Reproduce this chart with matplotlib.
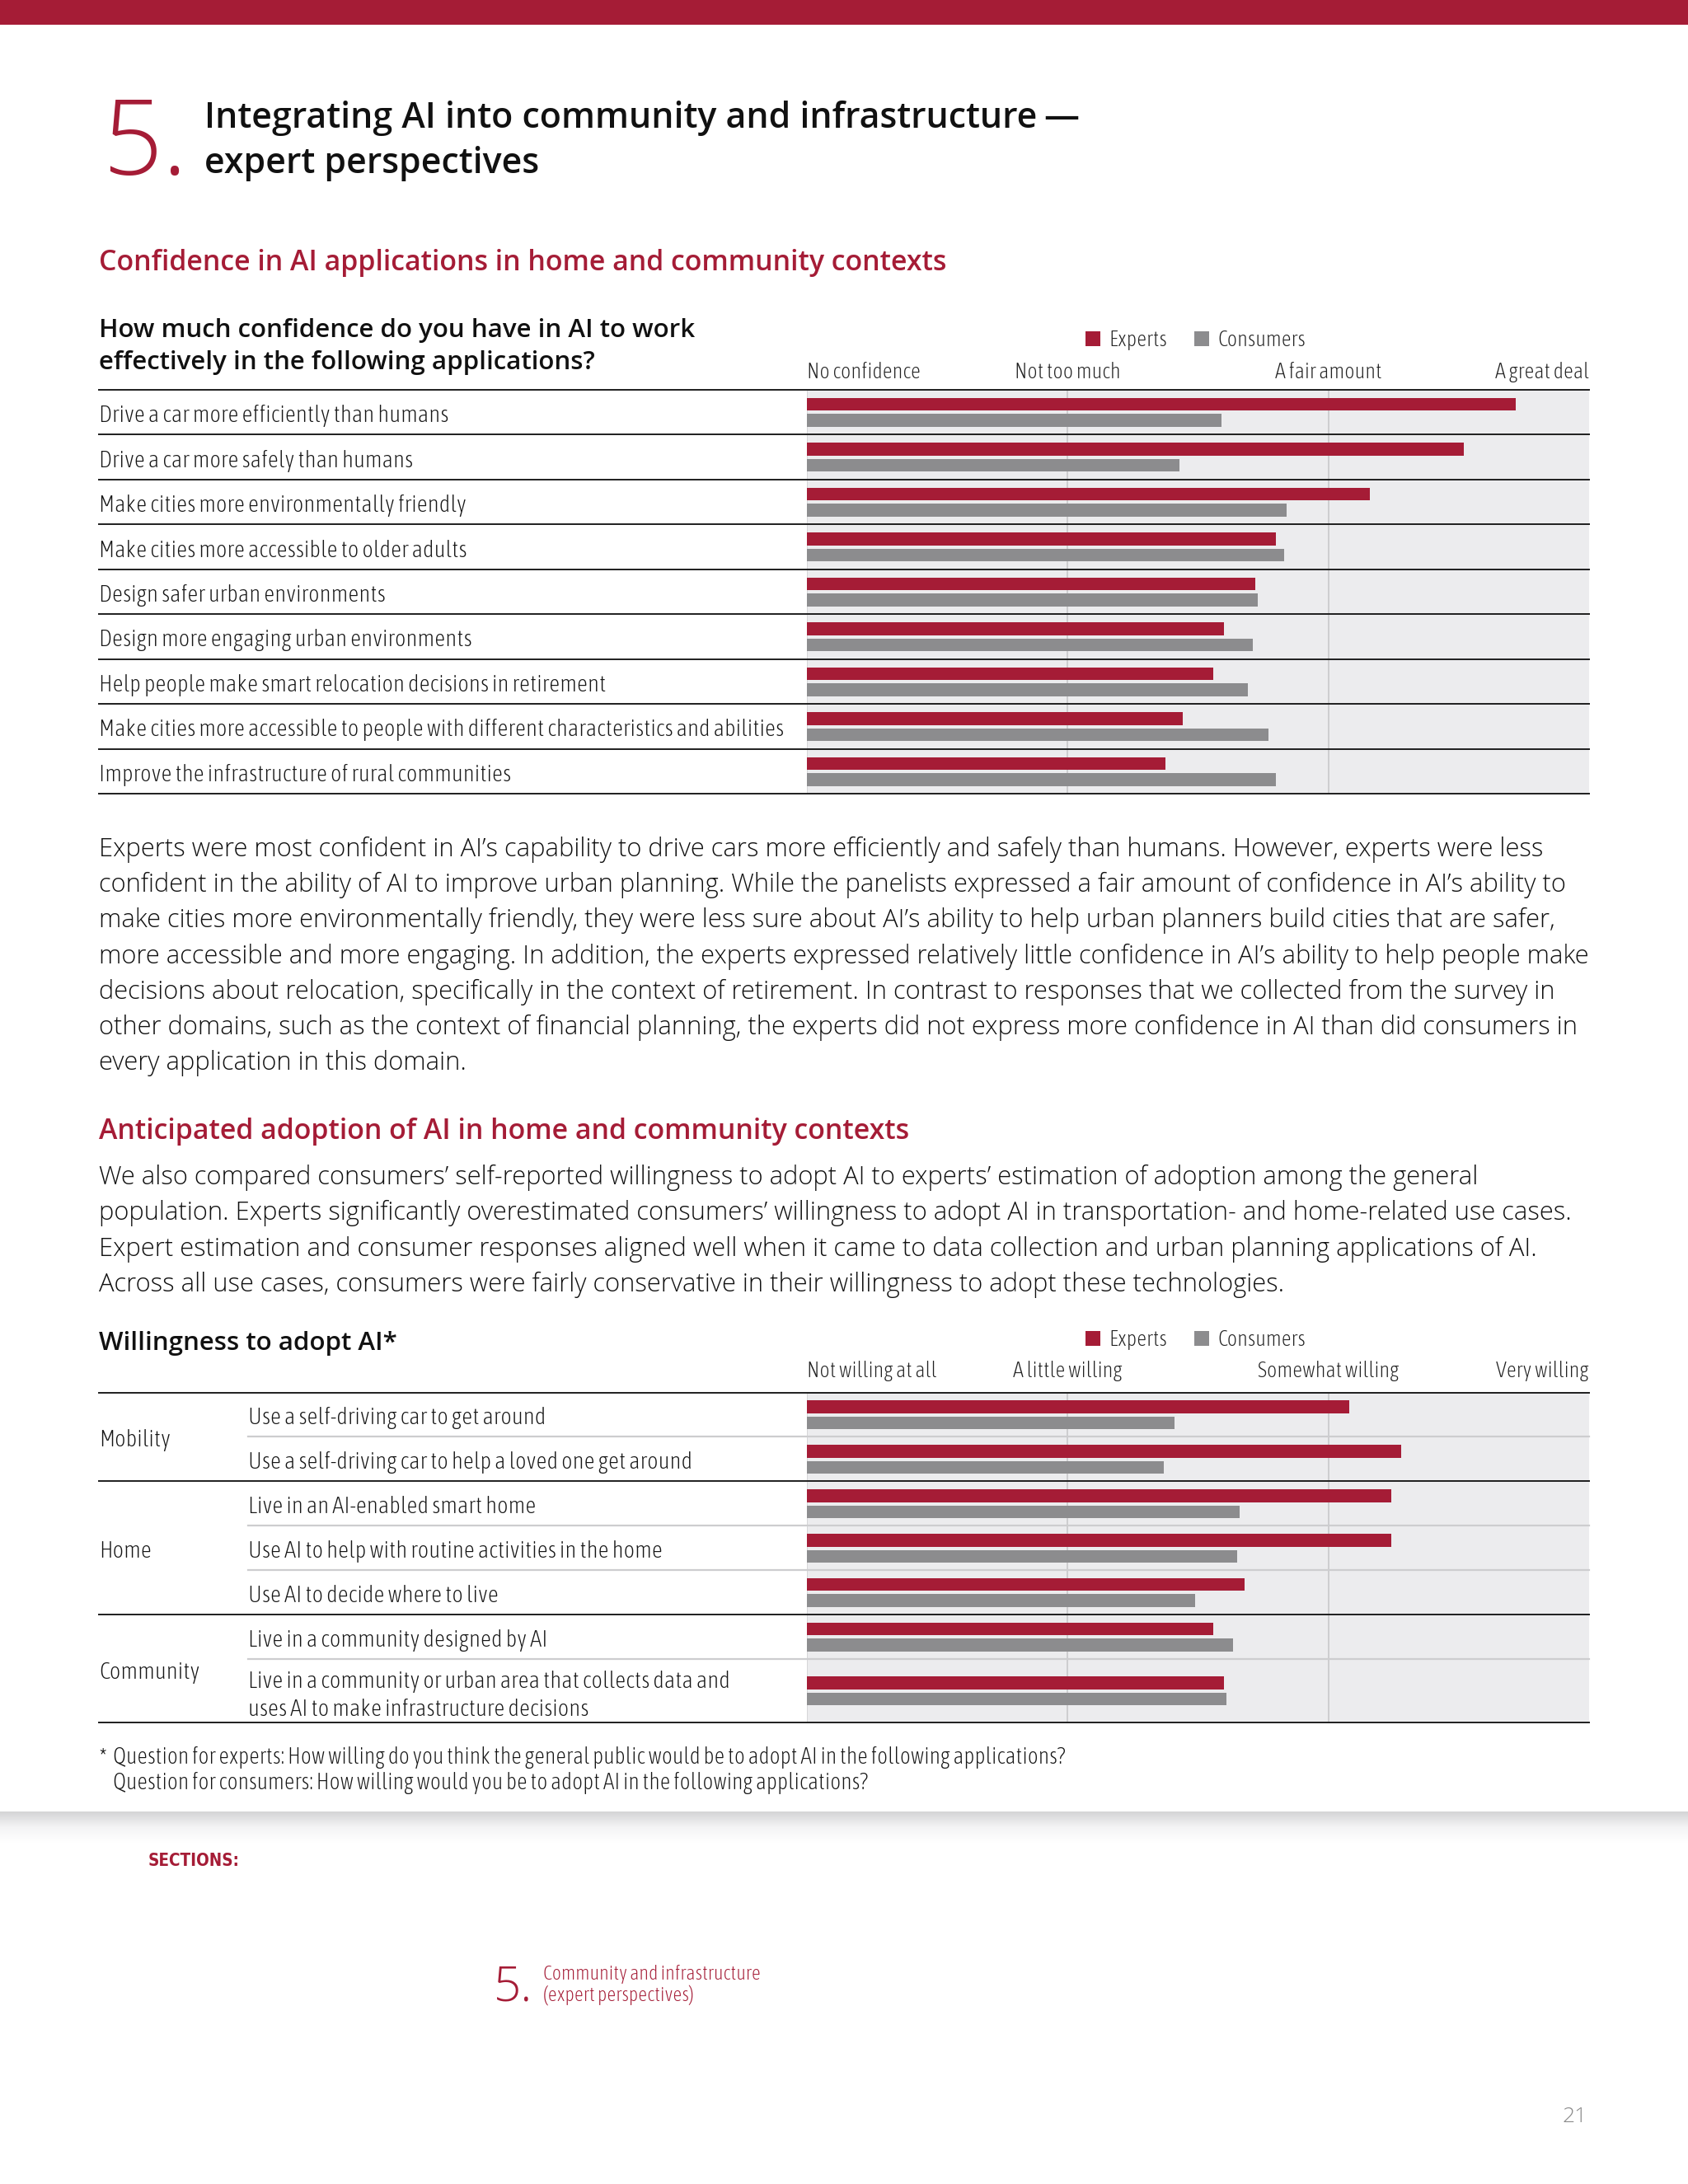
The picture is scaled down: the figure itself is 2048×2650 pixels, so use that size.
import numpy as np
import matplotlib
matplotlib.use('Agg')
import matplotlib.pyplot as plt
from matplotlib import font_manager as fm
from matplotlib.patches import Rectangle
from matplotlib.colors import LinearSegmentedColormap
from matplotlib.transforms import blended_transform_factory, offset_copy

# ---------------- data ----------------
series_names = ['Experts', 'Consumers']

conf_categories = [
    'Drive a car more efficiently than humans',
    'Drive a car more safely than humans',
    'Make cities more environmentally friendly',
    'Make cities more accessible to older adults',
    'Design safer urban environments',
    'Design more engaging urban environments',
    'Help people make smart relocation decisions in retirement',
    'Make cities more accessible to people with different characteristics and abilities',
    'Improve the infrastructure of rural communities',
]
conf_experts = [2.72, 2.52, 2.16, 1.80, 1.72, 1.60, 1.56, 1.44, 1.375]
conf_consumers = [1.59, 1.43, 1.84, 1.83, 1.73, 1.71, 1.69, 1.77, 1.80]
conf_ticks = ['No confidence', 'Not too much', 'A fair amount', 'A great deal']

adopt_groups = ['Mobility', 'Home', 'Community']
adopt_group_sizes = [2, 3, 2]
adopt_categories = [
    'Use a self-driving car to get around',
    'Use a self-driving car to help a loved one get around',
    'Live in an AI-enabled smart home',
    'Use AI to help with routine activities in the home',
    'Use AI to decide where to live',
    'Live in a community designed by AI',
    'Live in a community or urban area that collects data and\nuses AI to make infrastructure decisions',
]
adopt_experts = [2.08, 2.28, 2.24, 2.24, 1.68, 1.56, 1.60]
adopt_consumers = [1.41, 1.37, 1.66, 1.65, 1.49, 1.635, 1.61]
adopt_ticks = ['Not willing at all', 'A little willing', 'Somewhat willing', 'Very willing']

para1 = [
    'Experts were most confident in AI\u2019s capability to drive cars more efficiently and safely than humans. However, experts were less',
    'confident in the ability of AI to improve urban planning. While the panelists expressed a fair amount of confidence in AI\u2019s ability to',
    'make cities more environmentally friendly, they were less sure about AI\u2019s ability to help urban planners build cities that are safer,',
    'more accessible and more engaging. In addition, the experts expressed relatively little confidence in AI\u2019s ability to help people make',
    'decisions about relocation, specifically in the context of retirement. In contrast to responses that we collected from the survey in',
    'other domains, such as the context of financial planning, the experts did not express more confidence in AI than did consumers in',
    'every application in this domain.',
]
para2 = [
    'We also compared consumers\u2019 self-reported willingness to adopt AI to experts\u2019 estimation of adoption among the general',
    'population. Experts significantly overestimated consumers\u2019 willingness to adopt AI in transportation- and home-related use cases.',
    'Expert estimation and consumer responses aligned well when it came to data collection and urban planning applications of AI.',
    'Across all use cases, consumers were fairly conservative in their willingness to adopt these technologies.',
]

# ---------------- style ----------------
W, H, DPI = 2048, 2650, 100
RED = '#A51C36'
GRAY = '#8C8C8E'
BG = '#ECECEE'
GRID = '#C6C6C8'
DARK = '#1E1E1E'
LIGHTSEP = '#CDCDCF'
TXT = '#161616'

_WMAP = {'thin': 100, 'ultralight': 200, 'extralight': 200, 'light': 300, 'normal': 400,
         'regular': 400, 'book': 400, 'medium': 500, 'semibold': 600, 'demibold': 600,
         'bold': 700, 'heavy': 800, 'extra bold': 800, 'black': 900}


def _w(v):
    if isinstance(v, str):
        return _WMAP.get(v.lower(), 400)
    return int(v)


def _narrow(f):
    s = str(f.stretch).lower()
    return ('condensed' in s or s in ('75', '87.5', '62.5', '50')
            or 'Condensed' in f.name or 'Narrow' in f.name)


def weights_of(fam):
    return {_w(f.weight) for f in fm.fontManager.ttflist if f.name == fam and not _narrow(f)}


names = {f.name for f in fm.fontManager.ttflist}
BODY = 'Open Sans' if 'Open Sans' in names else 'DejaVu Sans'

# light body family
LIGHT = dict(family=BODY, weight=400)
for fam in ['Open Sans', 'Noto Sans', 'Lato', 'Roboto']:
    if fam in names and 300 in weights_of(fam):
        LIGHT = dict(family=fam, weight=300)
        break

# semibold heading family
HEAD = dict(family=BODY, weight=700)
for fam in ['Open Sans', 'Noto Sans', 'Lato']:
    if fam in names and 600 in weights_of(fam):
        HEAD = dict(family=fam, weight=600)
        break

# condensed light family for chart labels (fall back to light body)
COND = dict(LIGHT)
for f in fm.fontManager.ttflist:
    if _narrow(f) and _w(f.weight) <= 350:
        COND = dict(family=f.name, weight=_w(f.weight), stretch=f.stretch)
        break

# condensed bold for SECTIONS
CONDB = dict(family=HEAD['family'], weight=700)
for f in fm.fontManager.ttflist:
    if _narrow(f) and _w(f.weight) >= 600:
        CONDB = dict(family=f.name, weight=_w(f.weight), stretch=f.stretch)
        break

X0, X1, X2, X3 = 120, 979, 301, 1928   # page left, bar-area left, sub-label left, right

fig = plt.figure(figsize=(W / DPI, H / DPI), dpi=DPI)
page = fig.add_axes([0, 0, 1, 1])
page.axis('off')

# top band and shadow divider
page.add_patch(Rectangle((0, 0), W, 30, color=RED, lw=0, zorder=1))
grad = np.linspace(0, 1, 64).reshape(-1, 1)
cm = LinearSegmentedColormap.from_list('s', ['#D4D4D6', '#F4F4F5', '#FFFFFF'])
page.imshow(grad, extent=(0, W, 2236, 2198), cmap=cm, aspect='auto', zorder=0, interpolation='bilinear')
page.set_xlim(0, W)
page.set_ylim(H, 0)


def T(x, y, s, size, font, color=TXT, ha='left', va='baseline', **kw):
    f = dict(font)
    fam = f.pop('family')
    wt = f.pop('weight')
    return page.text(x, y, s, fontsize=size, family=fam, fontweight=wt, color=color,
                     ha=ha, va=va, **f, **kw)


groups = {}


def reg(g, t):
    groups.setdefault(g, []).append(t)
    return t


# header
T(124, 212, '5.', 92, LIGHT, color=RED)
reg('title', T(248, 155, 'Integrating AI into community and infrastructure\u2009\u2014', 32, HEAD, color='#111111'))
reg('title', T(248, 210, 'expert perspectives', 32, HEAD, color='#111111'))

reg('head', T(X0, 328, 'Confidence in AI applications in home and community contexts', 23, HEAD, color=RED))
reg('q', T(X0, 409, 'How much confidence do you have in AI to work', 22, HEAD, color='#111111'))
reg('q', T(X0, 448, 'effectively in the following applications?', 22, HEAD, color='#111111'))

for i, line in enumerate(para1):
    reg('para', T(X0, 1039 + i * 43.2, line, 22, LIGHT, color='#111111'))

reg('head', T(X0, 1382, 'Anticipated adoption of AI in home and community contexts', 23, HEAD, color=RED))
for i, line in enumerate(para2):
    reg('para', T(X0, 1437 + i * 43.3, line, 22, LIGHT, color='#111111'))

reg('q', T(X0, 1638, 'Willingness to adopt AI*', 22, HEAD, color='#111111'))

# footnote
reg('foot', T(X0, 2140, '*', 16, COND))
reg('foot', T(137, 2140, 'Question for experts: How willing do you think the general public would be to adopt AI in the following applications?', 16, COND))
reg('foot', T(137, 2171, 'Question for consumers: How willing would you be to adopt AI in the following applications?', 16, COND))

# bottom navigation
reg('sect', T(180, 2264, 'SECTIONS:', 18, CONDB, color=RED))
T(599, 2427, '5.', 42, LIGHT, color=RED)
reg('nav', T(659, 2402, 'Community and infrastructure', 14, COND, color=RED))
reg('nav', T(659, 2428, '(expert perspectives)', 14, COND, color=RED))
T(1926, 2575, '21', 19, LIGHT, color='#8A8A8A', ha='right')


def chart(top, bottom, exp, con, row_units, ticks, tick_base, legend_top, dark_after):
    ax = fig.add_axes([X1 / W, 1 - bottom / H, (X3 - X1) / W, (bottom - top) / H])
    edges = np.concatenate([[0], np.cumsum(row_units)])
    centers = (edges[:-1] + edges[1:]) / 2
    ax.set_xlim(0, 3)
    ax.set_ylim(edges[-1], 0)
    ax.set_facecolor(BG)
    for s in ax.spines.values():
        s.set_visible(False)
    ax.set_xticks([])
    ax.set_yticks([])
    ppu = (bottom - top) / edges[-1]  # pixels per unit
    h = 15.5 / ppu
    ax.barh(centers - 9.5 / ppu, exp, height=h, color=RED, zorder=3, label=series_names[0])
    ax.barh(centers + 10.0 / ppu, con, height=h, color=GRAY, zorder=3, label=series_names[1])
    ax.axvline(0, color='#D2D2D4', lw=1.2, zorder=1)
    for gx in (1, 2):
        ax.axvline(gx, color=GRID, lw=1.1, zorder=1)
    xmin_full = (X0 - X1) / (X3 - X1)
    xmin_sub = (X2 - X1) / (X3 - X1)
    for k, e in enumerate(edges):
        if k == 0 or k == len(edges) - 1 or k in dark_after:
            ax.axhline(e, xmin=xmin_full, xmax=1, color=DARK, lw=1.4, clip_on=False, zorder=4)
        else:
            ax.axhline(e, xmin=xmin_sub, xmax=1, color=LIGHTSEP, lw=1.6, clip_on=False, zorder=2)
    # scale labels along the axis
    tt = blended_transform_factory(ax.transData, page.transData)
    has = ['left', 'center', 'center', 'right']
    f = dict(COND)
    fam = f.pop('family')
    wt = f.pop('weight')
    for k, lab in enumerate(ticks):
        reg('tick', page.text(k, tick_base, lab, transform=tt, ha=has[k], va='baseline',
                              fontsize=18, family=fam, fontweight=wt, color='#222222', **f))
    # legend
    page.add_patch(Rectangle((1317, legend_top), 18, 18, color=RED, lw=0))
    page.add_patch(Rectangle((1449, legend_top), 18, 18, color=GRAY, lw=0))
    reg('tick', T(1345, legend_top + 18, series_names[0], 18, COND, color='#222222'))
    reg('tick', T(1477, legend_top + 18, series_names[1], 18, COND, color='#222222'))
    return ax, centers, edges


def label(x, y, s, trans, va='baseline', **kw):
    f = dict(COND)
    fam = f.pop('family')
    wt = f.pop('weight')
    return reg('label', page.text(x, y, s, transform=trans, ha='left', va=va, fontsize=20,
                                  family=fam, fontweight=wt, color=TXT, **f, **kw))


# chart 1
ax1, c1, e1 = chart(473, 963, conf_experts, conf_consumers,
                    [1] * len(conf_categories), conf_ticks, 459, 402,
                    dark_after=set(range(len(conf_categories) + 1)))
lt1 = offset_copy(blended_transform_factory(page.transData, ax1.transData), fig=fig, x=0, y=-12, units='dots')
for cat, cy in zip(conf_categories, c1):
    label(X0, cy, cat, lt1)

# chart 2
row_units2 = [1, 1, 1, 1, 1, 1, 77 / 54]
group_edges = np.cumsum(adopt_group_sizes)
ax2, c2, e2 = chart(1689.5, 2090, adopt_experts, adopt_consumers,
                    row_units2, adopt_ticks, 1671, 1615, dark_after=set(group_edges.tolist()))
lt2 = offset_copy(blended_transform_factory(page.transData, ax2.transData), fig=fig, x=0, y=-12, units='dots')
lt2c = offset_copy(blended_transform_factory(page.transData, ax2.transData), fig=fig, x=0, y=-6, units='dots')
for cat, cy in zip(adopt_categories, c2):
    if '\n' in cat:
        label(X2, cy, cat, lt2c, va='center', linespacing=1.32)
    else:
        label(X2, cy, cat, lt2)
start = 0
for g, n in zip(adopt_groups, adopt_group_sizes):
    gy = (e2[start] + e2[start + n]) / 2
    label(X0, gy, g, lt2)
    start += n

# ---------------- fit text widths to the reference layout ----------------
fig.canvas.draw()
rend = fig.canvas.get_renderer()
targets = {
    'title': (0, 1064),
    'head': (0, 1034),
    'q': (0, 721),
    'para': (0, 1746),
    'foot': (1, 1149),
    'sect': (0, 111),
    'nav': (0, 265),
    'tick': (0, 138),
    'label': (7, 831),
}
for g, (idx, tw) in targets.items():
    w = groups[g][idx].get_window_extent(rend).width
    s = tw / w
    for t in groups[g]:
        t.set_fontsize(t.get_fontsize() * s)

fig.savefig('out.png', dpi=DPI, facecolor='white')
